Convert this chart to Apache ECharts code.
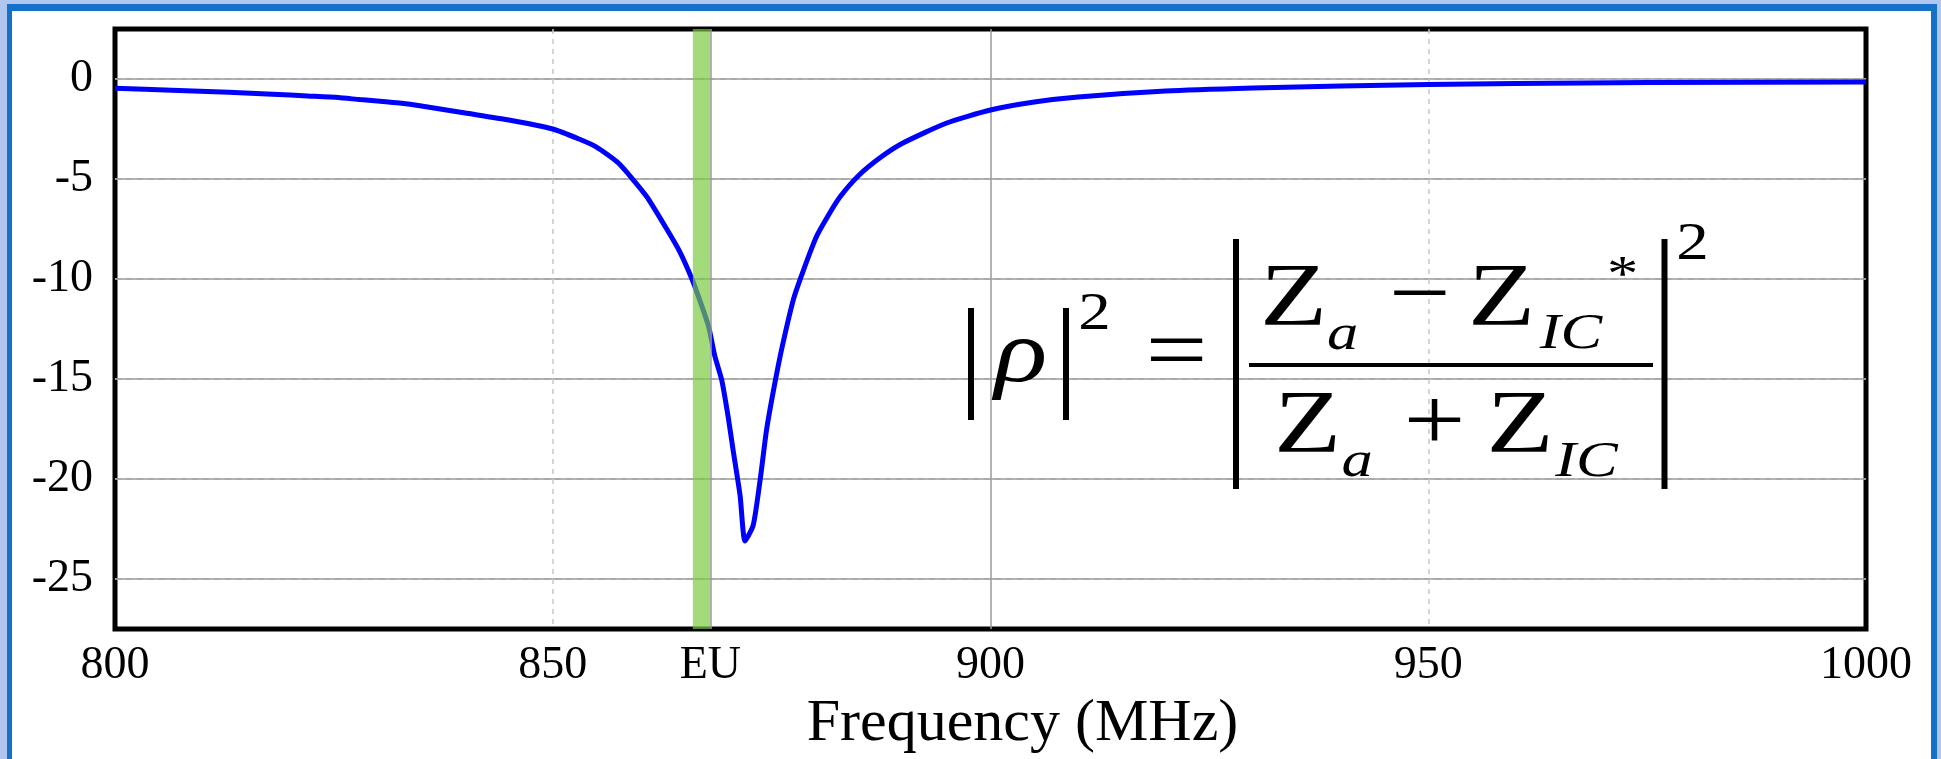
<!DOCTYPE html>
<html>
<head>
<meta charset="utf-8">
<script src="https://cdn.jsdelivr.net/npm/echarts@6/dist/echarts.min.js"></script>
<style>
  html, body { margin: 0; padding: 0; background: #b0c6ee; }
  #frame {
    position: absolute; left: 7px; top: 4px; width: 1930px; height: 800px;
    box-sizing: border-box; background: #fff;
    border-style: solid; border-color: #1570c9; border-width: 7px 6px 0 5px;
  }
  #main { position: absolute; left: 0; top: 0; width: 1941px; height: 759px; }
</style>
</head>
<body>
<div id="frame"></div>
<div id="main"></div>
<script>
// frequency (MHz) and |rho|^2 (dB)
const freq = [800, 806.5, 813, 818, 822, 825.5, 828, 830.6, 832.5, 835, 840, 845, 850, 853, 855, 857.5,
  860.7, 863, 864.5, 865.9, 866.8, 867.8, 868.5, 869.3, 870.05, 870.6, 871.4, 871.96, 872.9, 873.7,
  874.4, 875.2, 876.15, 877.5, 878.6, 880.1, 881.5, 882.8, 885, 887.5, 890, 895, 900, 905, 910, 920, 930,
  940, 950, 960, 975, 1000];
const rho2 = [-0.46, -0.56, -0.66, -0.76, -0.85, -0.93, -1.03, -1.12, -1.2, -1.35, -1.7, -2.05, -2.5, -3.0, -3.4, -4.2,
  -5.86, -7.49, -8.63, -10.0, -11.07, -12.37, -13.83, -15.05, -16.93, -18.55, -20.83, -23.1, -22.3, -20.0,
  -17.6, -15.6, -13.5, -11.0, -9.6, -7.9, -6.8, -5.9, -4.8, -3.9, -3.2, -2.2, -1.55, -1.15, -0.9, -0.6, -0.45,
  -0.35, -0.28, -0.23, -0.18, -0.15];
const euBand = [866, 868];
const euLabel = 'EU';
const xName = 'Frequency (MHz)';

const FONT = 'Liberation Serif';

const chart = echarts.init(document.getElementById('main'), null, { renderer: 'canvas' });

// formula pieces
function txt(x, y, s, size, italic) {
  return {
    type: 'text', x: x, y: y, scaleX: 1.25, z: 50,
    style: {
      text: s, fontSize: size, fontFamily: FONT, fontStyle: italic ? 'italic' : 'normal',
      fill: '#000', align: 'center', verticalAlign: 'middle',
      textAlign: 'center', textVerticalAlign: 'middle'
    }
  };
}
function bar(x, y, w, h) {
  return { type: 'rect', z: 50, shape: { x: x, y: y, width: w, height: h }, style: { fill: '#000' } };
}

const formula = [
  bar(968, 308, 6, 112),
  txt(1021, 358, '\u03c1', 88, true),
  bar(1063, 308, 6, 112),
  txt(1094.5, 315.5, '2', 52),
  txt(1176.5, 356, '=', 88),
  bar(1233, 239, 6, 250),
  bar(1249, 363, 404, 4),
  txt(1293.5, 301, 'Z', 88),
  txt(1342.5, 336, 'a', 50, true),
  txt(1420, 298.5, '\u2212', 88),
  txt(1501.5, 301, 'Z', 88),
  txt(1571, 335, 'IC', 50, true),
  txt(1622.5, 277, '*', 50),
  bar(1661.5, 239, 6, 250),
  txt(1692.5, 245.5, '2', 52),
  txt(1307.5, 427.5, 'Z', 88),
  txt(1357, 463, 'a', 50, true),
  txt(1434.5, 426, '+', 88),
  txt(1520, 427.5, 'Z', 88),
  txt(1586.5, 462.5, 'IC', 50, true)
];

const labelStyle = { color: '#000', fontFamily: FONT, fontSize: 46 };

const option = {
  backgroundColor: 'transparent',
  animation: false,
  grid: {
    left: 115, top: 29, right: 75, bottom: 117,
    show: true, borderColor: '#000', borderWidth: 5, backgroundColor: 'transparent'
  },
  xAxis: [
    {
      type: 'value', min: 800, max: 1000, interval: 50, position: 'bottom',
      axisLine: { show: false }, axisTick: { show: false }, splitLine: { show: false },
      axisLabel: Object.assign({ margin: 14, formatter: v => String(v) }, labelStyle),
      name: xName, nameLocation: 'middle', nameGap: 48,
      nameTextStyle: { color: '#000', fontFamily: FONT, fontSize: 60, padding: [0, 0, 0, 64] }
    },
    {
      type: 'value', min: 800, max: 1000, interval: 100, position: 'top',
      axisLine: { show: false }, axisTick: { show: false }, axisLabel: { show: false },
      splitLine: { show: true, showMinLine: false, showMaxLine: false, lineStyle: { color: '#9a9a9a', width: 1.5 } },
      minorTick: { show: false, splitNumber: 2 },
      minorSplitLine: { show: true, lineStyle: { color: '#c8c8c8', width: 1.5, type: [5, 5] } }
    }
  ],
  yAxis: [
    {
      type: 'value', min: -27.5, max: 2.5, interval: 2.5, position: 'left',
      axisLine: { show: false }, axisTick: { show: false },
      axisLabel: Object.assign({ margin: 22, formatter: v => (v % 5 === 0 ? String(v) : '') }, labelStyle),
      splitLine: {
        show: true, showMinLine: false, showMaxLine: false,
        lineStyle: { color: ['#c8c8c8', 'rgba(0,0,0,0)'], width: 1.5, type: [6, 5] }
      }
    },
    {
      type: 'value', min: -27.5, max: 2.5, splitNumber: 6, position: 'right',
      axisLine: { show: false }, axisTick: { show: false }, axisLabel: { show: false },
      splitLine: { show: true, showMinLine: false, showMaxLine: false, lineStyle: { color: '#9a9a9a', width: 1.5 } }
    }
  ],
  series: [
    {
      type: 'line', xAxisIndex: 0, yAxisIndex: 0, z: 2,
      data: freq.map((f, i) => [f, rho2[i]]),
      showSymbol: false, smooth: 0.2,
      lineStyle: { color: '#0000ff', width: 5 }
    },
    {
      // EU band
      type: 'line', xAxisIndex: 0, yAxisIndex: 0, z: 4, data: [],
      markArea: {
        silent: true, z: 10,
        itemStyle: { color: 'rgba(120, 200, 60, 0.68)' },
        data: [[{ xAxis: euBand[0] }, { xAxis: euBand[1] }]]
      },
      markLine: {
        silent: true, z: 11, symbol: ['none', 'none'],
        lineStyle: { color: '#9a9a9a', width: 1.5, type: 'solid' },
        label: { show: true, position: 'start', formatter: euLabel, distance: 14,
          color: '#000', fontFamily: FONT, fontSize: 46 },
        data: [{ xAxis: euBand[1] }]
      }
    }
  ],
  graphic: formula
};

chart.setOption(option);
</script>
</body>
</html>
